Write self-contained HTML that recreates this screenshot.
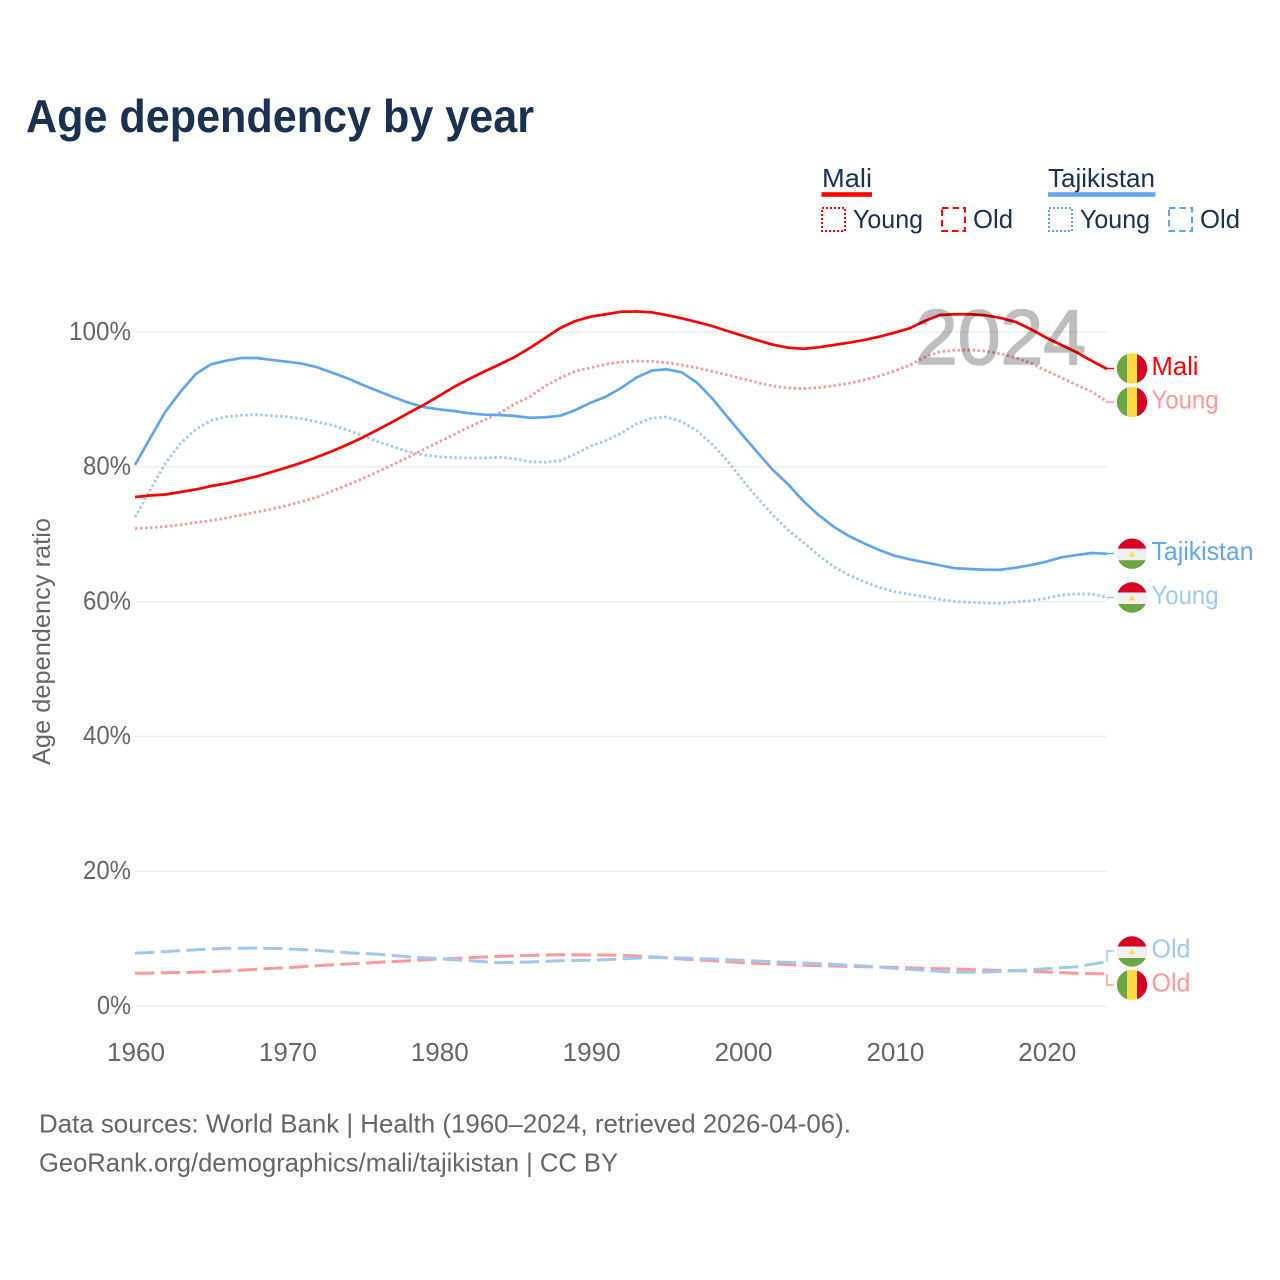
<!DOCTYPE html>
<html lang="en">
<head>
<meta charset="utf-8">
<title>Age dependency by year</title>
<style>
html,body{margin:0;padding:0;background:#fff}
#chart{display:block;width:1280px;height:1280px;font-family:"Liberation Sans",sans-serif}
</style>
</head>
<body>
<svg id="chart" xmlns="http://www.w3.org/2000/svg" width="1280" height="1280" viewBox="0 0 1280 1280">
  <rect x="0" y="0" width="1280" height="1280" fill="#fff"/>
  <text x="26" y="132" font-size="46" font-weight="700" fill="#1a3150" textLength="508" lengthAdjust="spacingAndGlyphs">Age dependency by year</text>

  <g font-size="26" fill="#1a3150">
    <g>
      <text x="822" y="187" textLength="50" lengthAdjust="spacingAndGlyphs">Mali</text>
      <rect x="821.5" y="192.2" width="50.5" height="4.6" fill="#ff0000"/>
      <rect x="822" y="208" width="23" height="23" fill="none" stroke="#ff0000" stroke-width="2" stroke-dasharray="2 2"/>
      <text x="853" y="228" textLength="70" lengthAdjust="spacingAndGlyphs">Young</text>
      <rect x="942" y="208" width="23" height="23" fill="none" stroke="#ff0000" stroke-width="2" stroke-dasharray="6.5 4"/>
      <text x="973" y="228" textLength="40" lengthAdjust="spacingAndGlyphs">Old</text>
    </g>
    <g>
      <text x="1048" y="187" textLength="107" lengthAdjust="spacingAndGlyphs">Tajikistan</text>
      <rect x="1048" y="192.2" width="107.5" height="4.6" fill="#60a5ee"/>
      <rect x="1049" y="208" width="23" height="23" fill="none" stroke="#60a5ee" stroke-width="2" stroke-dasharray="2 2"/>
      <text x="1080" y="228" textLength="70" lengthAdjust="spacingAndGlyphs">Young</text>
      <rect x="1169" y="208" width="23" height="23" fill="none" stroke="#60a5ee" stroke-width="2" stroke-dasharray="6.5 4"/>
      <text x="1200" y="228" textLength="40" lengthAdjust="spacingAndGlyphs">Old</text>
    </g>
  </g>

  <g id="grid"></g>
  <g id="yticks"></g>
  <g id="xticks"></g>
  <text transform="translate(50,765) rotate(-90)" font-size="25" fill="#666" textLength="247" lengthAdjust="spacingAndGlyphs">Age dependency ratio</text>

  <g id="series"></g>
  <text x="915" y="364" font-size="78" fill="#000" stroke="#000" stroke-width="1.6" opacity="0.25" textLength="171" lengthAdjust="spacingAndGlyphs">2024</text>

  <defs>
    <clipPath id="flagClip"><circle cx="0" cy="0" r="15.2"/></clipPath>
  </defs>
  <g id="flags"></g>
  <g id="endLabels" font-size="26"></g>

  <text x="39" y="1132.5" font-size="26" fill="#666" textLength="812" lengthAdjust="spacingAndGlyphs">Data sources: World Bank | Health (1960–2024, retrieved 2026-04-06).</text>
  <text x="39" y="1171.5" font-size="26" fill="#666" textLength="579" lengthAdjust="spacingAndGlyphs">GeoRank.org/demographics/mali/tajikistan | CC BY</text>
</svg>

<script>
const firstYear = 1960;
const lastYear = 2024;
const xTickYears = [1960, 1970, 1980, 1990, 2000, 2010, 2020];
const yTickValues = [0, 20, 40, 60, 80, 100];

const maliTotal = [75.52,75.74,75.89,76.26,76.63,77.15,77.52,78.04,78.56,79.23,
  79.9,80.64,81.45,82.34,83.31,84.35,85.53,86.72,87.98,89.17,
  90.5,91.84,93.03,94.14,95.18,96.29,97.63,99.11,100.59,101.63,
  102.27,102.63,103.01,103.04,102.92,102.52,102.03,101.48,100.89,100.15,
  99.45,98.77,98.12,97.67,97.52,97.73,98.07,98.41,98.81,99.3,
  99.9,100.55,101.63,102.52,102.63,102.63,102.48,102.08,101.48,100.4,
  99.15,98.07,96.99,95.7,94.51];
const maliYoung = [70.82,70.96,71.14,71.41,71.74,72.03,72.4,72.85,73.29,73.74,
  74.26,74.85,75.52,76.41,77.3,78.26,79.3,80.34,81.45,82.57,
  83.68,84.79,85.91,86.94,87.98,89.32,90.4,91.99,93.18,94.21,
  94.7,95.21,95.55,95.7,95.65,95.45,95.1,94.7,94.17,93.62,
  93.07,92.48,91.99,91.69,91.59,91.74,92.03,92.39,92.88,93.47,
  94.21,95.06,96.25,97.08,97.29,97.33,97.18,96.74,96.19,95.36,
  94.26,93.22,92.14,91.14,89.66];
const tajTotal = [80.27,84.27,88.18,91.14,93.77,95.21,95.74,96.14,96.14,95.85,
  95.59,95.3,94.76,93.96,93.13,92.14,91.25,90.36,89.51,88.87,
  88.53,88.28,87.94,87.73,87.69,87.54,87.28,87.34,87.58,88.43,
  89.51,90.4,91.69,93.22,94.26,94.47,94.02,92.48,90.16,87.43,
  84.72,82.09,79.53,77.4,74.93,72.85,71.11,69.73,68.65,67.66,
  66.81,66.28,65.83,65.39,64.94,64.84,64.73,64.73,65.03,65.43,
  65.92,66.57,66.91,67.21,67.11];
const tajYoung = [72.51,76.56,80.52,83.49,85.56,86.84,87.43,87.64,87.73,87.58,
  87.43,87.14,86.65,86.16,85.46,84.61,83.72,82.98,82.24,81.75,
  81.5,81.35,81.31,81.31,81.41,81.2,80.76,80.67,80.91,81.9,
  83.09,83.87,84.97,86.35,87.2,87.39,86.69,85.36,83.34,80.91,
  78.04,75.33,72.85,70.62,68.8,66.91,65.18,63.95,62.95,62.12,
  61.47,61.08,60.73,60.34,59.99,59.9,59.79,59.75,59.94,60.13,
  60.49,60.98,61.13,61.13,60.64];
/* old-age series are read every second year */
const oldStepYears = 2;
const maliOld = [4.85,4.93,5.0,5.19,5.45,5.68,5.98,6.23,6.48,6.72,6.97,7.17,7.37,7.52,7.61,7.57,
  7.52,7.31,6.97,6.72,6.42,6.23,6.04,5.93,5.83,5.74,5.59,5.49,5.34,5.24,5.04,4.85,4.75];
const tajOld = [7.82,8.06,8.35,8.56,8.58,8.5,8.26,7.91,7.67,7.31,7.02,6.72,6.42,6.53,6.72,6.78,
  6.97,7.23,7.12,6.97,6.78,6.57,6.38,6.19,5.93,5.59,5.3,5.0,5.04,5.24,5.53,5.83,6.57];

const NS = 'http://www.w3.org/2000/svg';
const x = year => 135 + (year - firstYear) * (1107 - 135) / (lastYear - firstYear);
const y = value => 1006 - value * 6.74;

function make(tag, parent, attrs, text) {
  const el = document.createElementNS(NS, tag);
  for (const k in attrs) el.setAttribute(k, attrs[k]);
  if (text !== undefined) el.textContent = text;
  parent.appendChild(el);
  return el;
}

const gridG = document.getElementById('grid');
const yTickG = document.getElementById('yticks');
const xTickG = document.getElementById('xticks');
const seriesG = document.getElementById('series');
const flagsG = document.getElementById('flags');
const labelsG = document.getElementById('endLabels');

yTickValues.forEach(v => {
  const line = make('line', gridG, {x1: 135, x2: 1107, y1: y(v), y2: y(v), stroke: '#eeeeee', 'stroke-width': 1.5});
  
  
  const label = v + '%';
  const tick = make('text', yTickG, {x: 131, y: y(v) + 7.8, 'text-anchor': 'end', 'font-size': 26, fill: '#666',
    textLength: label.length === 4 ? 62 : (label.length === 3 ? 48 : 34), lengthAdjust: 'spacingAndGlyphs'}, label);
  
  
});

xTickYears.forEach(yr => {
  const tick = make('text', xTickG, {x: x(yr) + 1, y: 1061, 'text-anchor': 'middle', 'font-size': 26, fill: '#666',
    textLength: 58, lengthAdjust: 'spacingAndGlyphs'}, String(yr));
  
  
});

function drawSeries(name, values, step, color, width, dash) {
  const pts = values.map((v, i) => x(firstYear + i * step).toFixed(2) + ',' + y(v).toFixed(2)).join(' ');
  const attrs = {points: pts, fill: 'none', stroke: color, 'stroke-width': width, 'stroke-linejoin': 'round'};
  if (dash) attrs['stroke-dasharray'] = dash;
  const line = make('polyline', seriesG, attrs);
  
  
}

const RED = '#ff0000', BLUE = '#60a5ee', LRED = '#ff9999', LBLUE = '#9fc8f1';
drawSeries('line-mali-old', maliOld, oldStepYears, LRED, 3, '19.3 6.4');
drawSeries('line-tajikistan-old', tajOld, oldStepYears, LBLUE, 3, '19.3 6.4');
drawSeries('line-mali-young', maliYoung, 1, LRED, 2.8, '2.5 2.5');
drawSeries('line-tajikistan-young', tajYoung, 1, LBLUE, 2.8, '2.5 2.5');
drawSeries('line-tajikistan-total', tajTotal, 1, BLUE, 2.7);
drawSeries('line-mali-total', maliTotal, 1, RED, 2.7);

function connector(name, value, labelY, color) {
  const y0 = y(value);
  const pts = '1107,' + y0.toFixed(2) + ' 1107,' + labelY + ' 1114,' + labelY;
  const c = make('polyline', seriesG, {points: pts, fill: 'none', stroke: color, 'stroke-width': 1.5});
  
  
}
connector('connector-mali-total', maliTotal[maliTotal.length - 1], 368.5, RED);
connector('connector-mali-young', maliYoung[maliYoung.length - 1], 402, LRED);
connector('connector-tajikistan-total', tajTotal[tajTotal.length - 1], 553.5, BLUE);
connector('connector-tajikistan-young', tajYoung[tajYoung.length - 1], 597.5, LBLUE);
connector('connector-tajikistan-old', tajOld[tajOld.length - 1], 951, LBLUE);
connector('connector-mali-old', maliOld[maliOld.length - 1], 985, LRED);

function maliFlag(cy) {
  const g = make('g', flagsG, {transform: 'translate(1132,' + cy + ')', 'clip-path': 'url(#flagClip)'});
  
  
  make('rect', g, {x: -16, y: -16, width: 11, height: 32, fill: '#6da544'});
  make('rect', g, {x: -5, y: -16, width: 10, height: 32, fill: '#ffda44'});
  make('rect', g, {x: 5, y: -16, width: 11, height: 32, fill: '#d80027'});
}
function tajFlag(cy) {
  const g = make('g', flagsG, {transform: 'translate(1132,' + cy + ')', 'clip-path': 'url(#flagClip)'});
  
  
  make('rect', g, {x: -16, y: -16, width: 32, height: 11, fill: '#d80027'});
  make('rect', g, {x: -16, y: -5, width: 32, height: 11.5, fill: '#f0f0f0'});
  make('rect', g, {x: -16, y: 6.5, width: 32, height: 10, fill: '#6da544'});
  make('rect', g, {x: -2.5, y: 0.5, width: 5, height: 2.5, fill: '#ffda44'});
  make('circle', g, {cx: 0, cy: -0.5, r: 1.2, fill: '#ffda44'});
}
maliFlag(368.5);
maliFlag(402);
tajFlag(553.7);
tajFlag(597.5);
tajFlag(951.5);
maliFlag(984.8);

function endLabel(name, text, baseline, color, w) {
  const t = make('text', labelsG, {x: 1151.5, y: baseline, fill: color, textLength: w, lengthAdjust: 'spacingAndGlyphs'}, text);
  
  
}
endLabel('end-label-mali', 'Mali', 375, RED, 47);
endLabel('end-label-mali-young', 'Young', 408.5, LRED, 67);
endLabel('end-label-tajikistan', 'Tajikistan', 560, BLUE, 102);
endLabel('end-label-tajikistan-young', 'Young', 604, LBLUE, 67);
endLabel('end-label-tajikistan-old', 'Old', 957.5, LBLUE, 39);
endLabel('end-label-mali-old', 'Old', 991.5, LRED, 39);
</script>
</body>
</html>
